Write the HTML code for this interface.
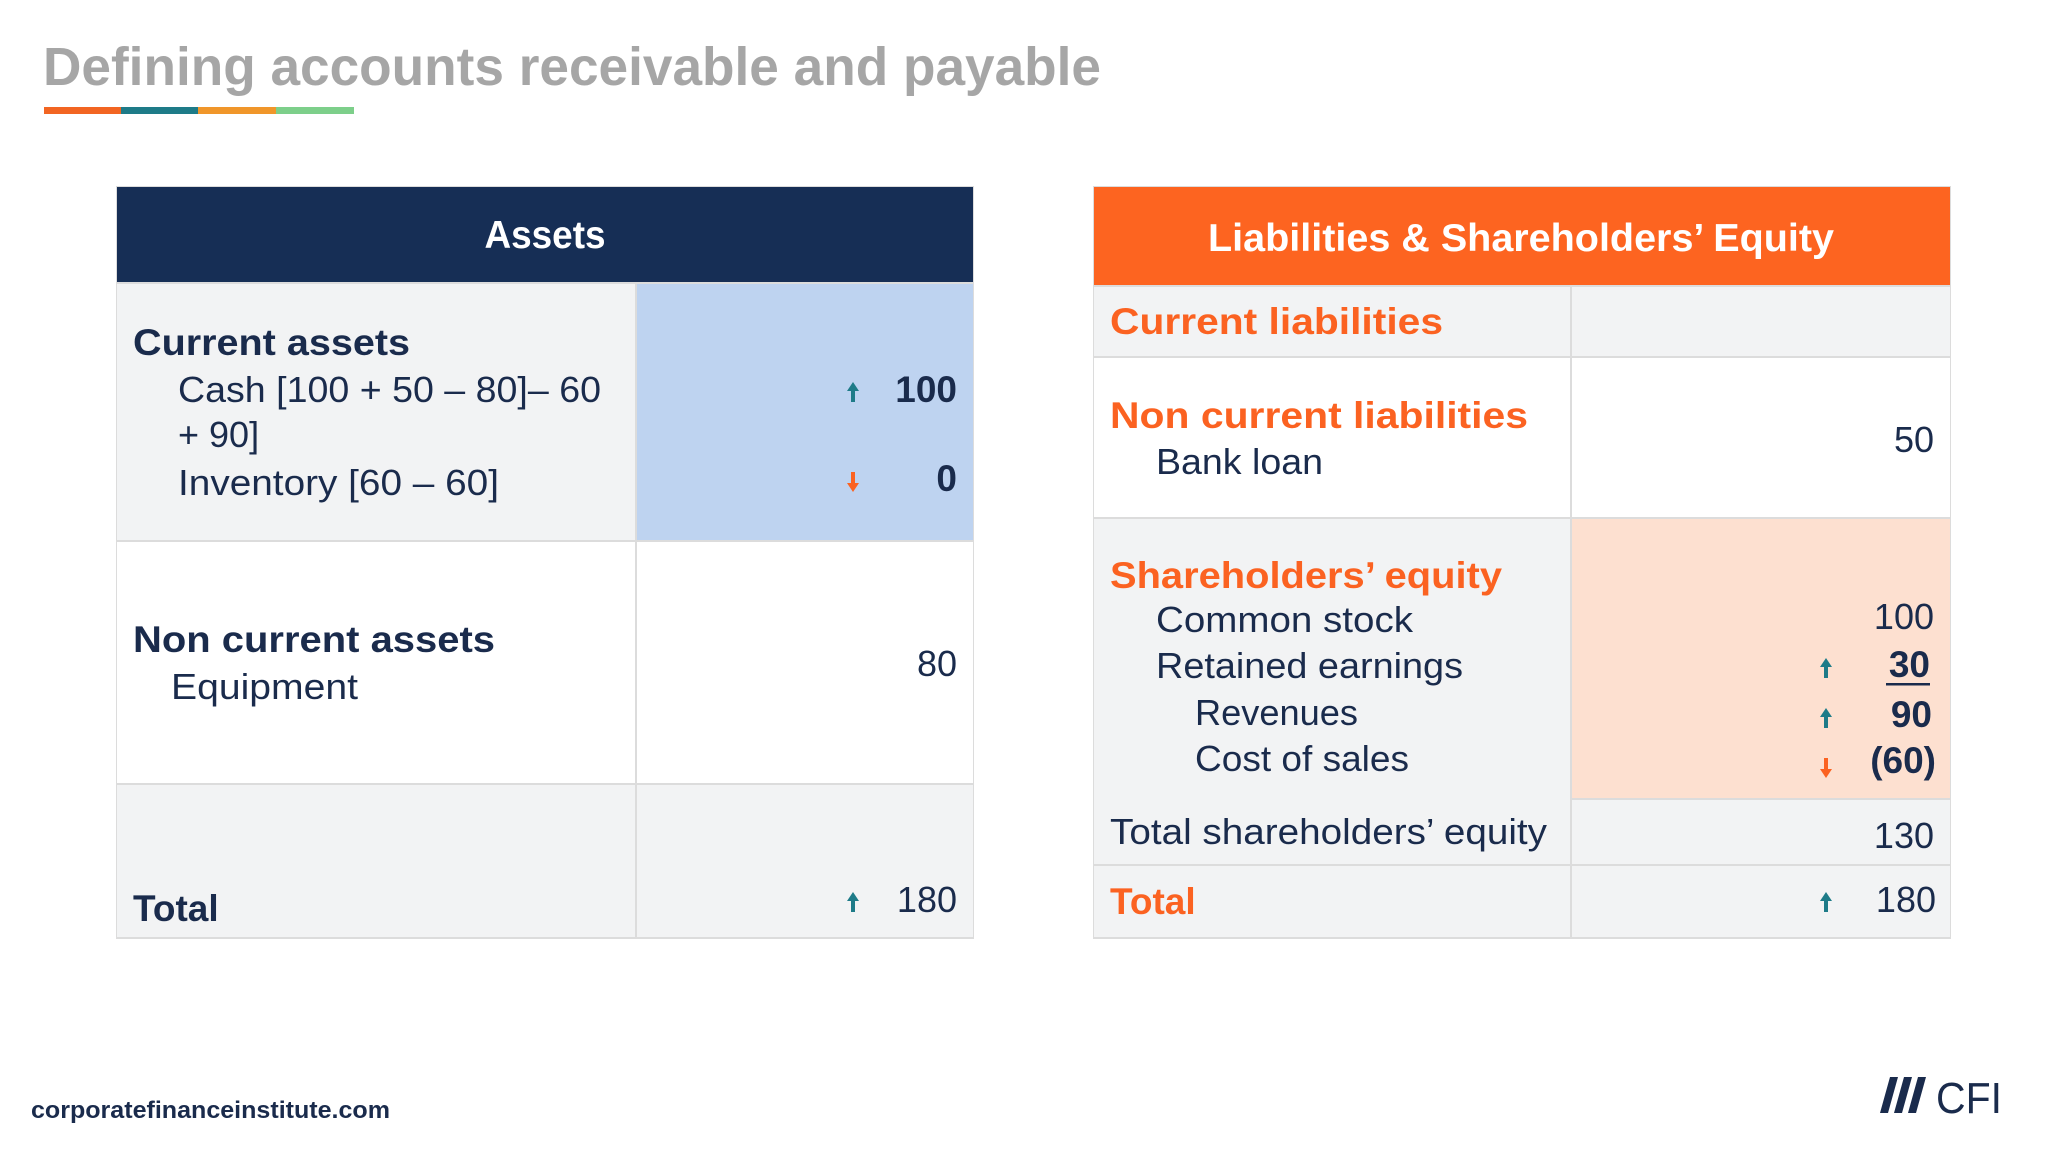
<!DOCTYPE html>
<html><head><meta charset="utf-8"><style>
html,body{margin:0;padding:0;background:#fff;}
svg{display:block;font-family:"Liberation Sans",sans-serif;}
.n{fill:#1a2b4c;}
.b{font-weight:bold;}
.o{fill:#fb6221;}
</style></head><body>
<svg width="2048" height="1152" viewBox="0 0 2048 1152">
<rect width="2048" height="1152" fill="#ffffff"/>
<text x="43" y="85" font-size="54" font-weight="bold" fill="#a6a6a6" textLength="1058" lengthAdjust="spacingAndGlyphs">Defining accounts receivable and payable</text>
<g>
<rect x="44" y="107" width="77" height="7" fill="#f26522"/>
<rect x="121" y="107" width="77" height="7" fill="#1e7b88"/>
<rect x="198" y="107" width="78" height="7" fill="#f0962a"/>
<rect x="276" y="107" width="78" height="7" fill="#7dcf8a"/>
</g>

<g>
<rect x="116" y="186" width="858" height="753" fill="#dcdcdc"/>
<rect x="117" y="187" width="856" height="95" fill="#162e55"/>
<rect x="117" y="284" width="518" height="256" fill="#f2f3f4"/>
<rect x="637" y="284" width="336" height="256" fill="#bed3f0"/>
<rect x="117" y="542" width="518" height="241" fill="#ffffff"/>
<rect x="637" y="542" width="336" height="241" fill="#ffffff"/>
<rect x="117" y="785" width="518" height="152" fill="#f2f3f4"/>
<rect x="637" y="785" width="336" height="152" fill="#f2f3f4"/>
<text x="545" y="248" font-size="39" font-weight="bold" fill="#fff" text-anchor="middle" textLength="121" lengthAdjust="spacingAndGlyphs">Assets</text>
<text class="n b" x="133" y="355" font-size="37" textLength="277" lengthAdjust="spacingAndGlyphs">Current assets</text>
<text class="n" x="178" y="402" font-size="36" textLength="423" lengthAdjust="spacingAndGlyphs">Cash [100 + 50 – 80]– 60</text>
<text class="n" x="178" y="447" font-size="36">+ 90]</text>
<text class="n" x="178" y="495" font-size="36" textLength="321" lengthAdjust="spacingAndGlyphs">Inventory [60 – 60]</text>
<text class="n b" x="957" y="402" font-size="37" text-anchor="end">100</text>
<text class="n b" x="957" y="491" font-size="37" text-anchor="end">0</text>
<text class="n b" x="133" y="652" font-size="37" textLength="362" lengthAdjust="spacingAndGlyphs">Non current assets</text>
<text class="n" x="171" y="699" font-size="36" textLength="187" lengthAdjust="spacingAndGlyphs">Equipment</text>
<text class="n" x="957" y="676" font-size="36" text-anchor="end">80</text>
<text class="n b" x="133" y="921" font-size="37">Total</text>
<text class="n" x="957" y="912" font-size="36" text-anchor="end">180</text>
</g>

<g>
<rect x="1093" y="186" width="858" height="753" fill="#dcdcdc"/>
<rect x="1094" y="187" width="856" height="98" fill="#fd6420"/>
<rect x="1094" y="287" width="476" height="69" fill="#f2f3f4"/>
<rect x="1572" y="287" width="378" height="69" fill="#f2f3f4"/>
<rect x="1094" y="358" width="476" height="159" fill="#ffffff"/>
<rect x="1572" y="358" width="378" height="159" fill="#ffffff"/>
<rect x="1094" y="519" width="476" height="345" fill="#f2f3f4"/>
<rect x="1572" y="519" width="378" height="279" fill="#fde0d0"/>
<rect x="1572" y="800" width="378" height="64" fill="#f2f3f4"/>
<rect x="1094" y="866" width="476" height="71" fill="#f2f3f4"/>
<rect x="1572" y="866" width="378" height="71" fill="#f2f3f4"/>
<text x="1521" y="251" font-size="39" font-weight="bold" fill="#fff" text-anchor="middle" textLength="626" lengthAdjust="spacingAndGlyphs">Liabilities &amp; Shareholders’ Equity</text>
<text class="o b" x="1110" y="334" font-size="37" textLength="333" lengthAdjust="spacingAndGlyphs">Current liabilities</text>
<text class="o b" x="1110" y="428" font-size="37" textLength="418" lengthAdjust="spacingAndGlyphs">Non current liabilities</text>
<text class="n" x="1156" y="474" font-size="36" textLength="167" lengthAdjust="spacingAndGlyphs">Bank loan</text>
<text class="n" x="1934" y="452" font-size="36" text-anchor="end">50</text>
<text class="o b" x="1110" y="588" font-size="37" textLength="392" lengthAdjust="spacingAndGlyphs">Shareholders’ equity</text>
<text class="n" x="1156" y="632" font-size="36" textLength="257" lengthAdjust="spacingAndGlyphs">Common stock</text>
<text class="n" x="1156" y="678" font-size="36" textLength="307" lengthAdjust="spacingAndGlyphs">Retained earnings</text>
<text class="n" x="1195" y="725" font-size="36" textLength="163" lengthAdjust="spacingAndGlyphs">Revenues</text>
<text class="n" x="1195" y="771" font-size="36" textLength="214" lengthAdjust="spacingAndGlyphs">Cost of sales</text>
<text class="n" x="1110" y="844" font-size="36" textLength="437" lengthAdjust="spacingAndGlyphs">Total shareholders’ equity</text>
<text class="o b" x="1110" y="914" font-size="37">Total</text>
<text class="n" x="1934" y="629" font-size="36" text-anchor="end">100</text>
<text class="n b" x="1930" y="677" font-size="37" text-anchor="end">30</text>
<rect x="1886" y="683" width="44" height="2.5" fill="#1a2b4c"/>
<text class="n b" x="1932" y="727" font-size="37" text-anchor="end">90</text>
<text class="n b" x="1936" y="773" font-size="37" text-anchor="end">(60)</text>
<text class="n" x="1934" y="848" font-size="36" text-anchor="end">130</text>
<text class="n" x="1936" y="912" font-size="36" text-anchor="end">180</text>
</g>

<g>
<g fill="#1e7b88">
<path d="M853 382 l-6 9 h4 v11 h4 v-11 h4 z"/>
<path d="M853 892 l-6 9 h4 v11 h4 v-11 h4 z"/>
<path d="M1826 658 l-6 9 h4 v11 h4 v-11 h4 z"/>
<path d="M1826 708 l-6 9 h4 v11 h4 v-11 h4 z"/>
<path d="M1826 892 l-6 9 h4 v11 h4 v-11 h4 z"/>
</g>
<g fill="#fb6221">
<path d="M853 492 l-6 -9 h4 v-11 h4 v11 h4 z"/>
<path d="M1826 778 l-6 -9 h4 v-11 h4 v11 h4 z"/>
</g>
</g>

<text class="n b" x="31" y="1118" font-size="24" textLength="359" lengthAdjust="spacingAndGlyphs">corporatefinanceinstitute.com</text>
<g>
<path d="M1890 1077 h8 l-10 36 h-8 z M1904 1077 h8 l-10 36 h-8 z M1918 1077 h8 l-10 36 h-8 z" fill="#1a2b4c"/>
<text x="1936" y="1113" font-size="44" fill="#1a2b4c" textLength="66" lengthAdjust="spacingAndGlyphs">CFI</text>
</g>
</svg>
</body></html>
